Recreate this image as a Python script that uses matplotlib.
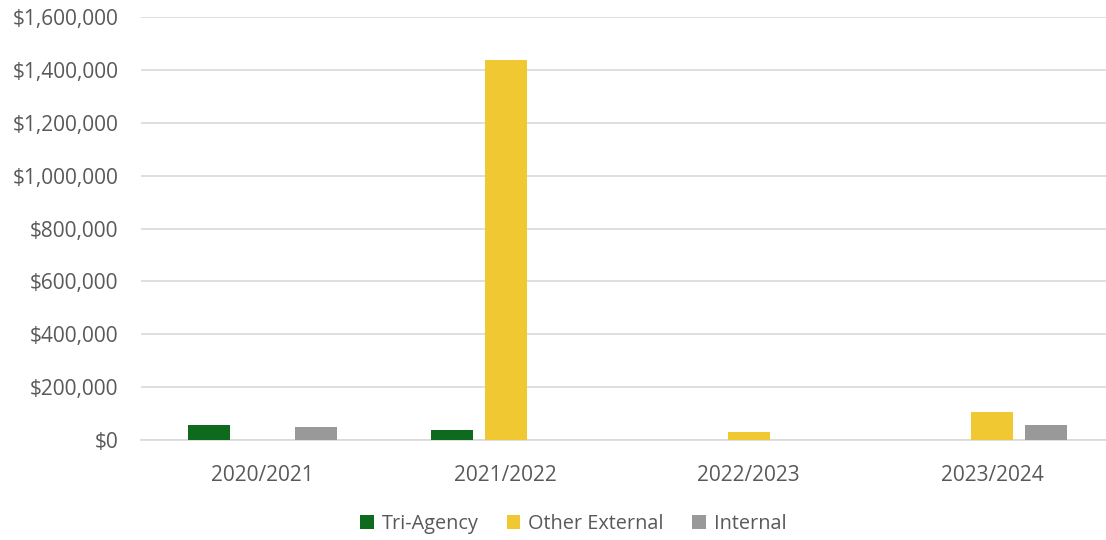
import matplotlib
matplotlib.use("Agg")
import matplotlib.pyplot as plt
import numpy as np
from matplotlib.ticker import FuncFormatter

categories = ["2020/2021", "2021/2022", "2022/2023", "2023/2024"]
series_names = ["Tri-Agency", "Other External", "Internal"]
tri_agency = [55600, 37800, 0, 0]
other_external = [0, 1439000, 30000, 104700]
internal = [49000, 0, 0, 56700]
colors = ["#0E6B1E", "#F0C832", "#999999"]

plt.rcParams['font.family'] = ['Open Sans', 'DejaVu Sans']
text_color = "#595959"

fig = plt.figure(figsize=(11.06, 5.40), dpi=100)
ax = fig.add_axes([140.7/1106, 1-440/540, 972.9/1106, 423/540])

x = np.arange(len(categories))
width = 0.1727
offset = 0.2208
for i, (vals, name, c) in enumerate(zip([tri_agency, other_external, internal], series_names, colors)):
    ax.bar(x + (i-1)*offset, vals, width=width, color=c, label=name, zorder=3)

ax.set_xlim(-0.5, 3.5)
ax.set_ylim(0, 1600000)
ax.set_yticks(np.arange(0, 1600001, 200000))
ax.yaxis.set_major_formatter(FuncFormatter(lambda v, p: f"${v:,.0f}"))
ax.set_xticks(x)
ax.set_xticklabels(categories)
ax.grid(axis='y', color="#D9D9D9", linewidth=1.2, zorder=0)
for s in ['top', 'right', 'left']:
    ax.spines[s].set_visible(False)
ax.spines['bottom'].set_color("#D9D9D9")
ax.spines['bottom'].set_linewidth(1.2)
ax.tick_params(axis='both', length=0, labelsize=15, colors=text_color)
ax.tick_params(axis='y', pad=16)
ax.tick_params(axis='x', pad=18)

leg = fig.legend(loc='center', bbox_to_anchor=(573/1106, 1-524/540), ncol=3, frameon=False,
                 fontsize=14.3, handlelength=0.7, handleheight=0.7, handletextpad=0.4,
                 columnspacing=1.4, labelcolor=text_color)

fig.savefig("out.png", dpi=100)
